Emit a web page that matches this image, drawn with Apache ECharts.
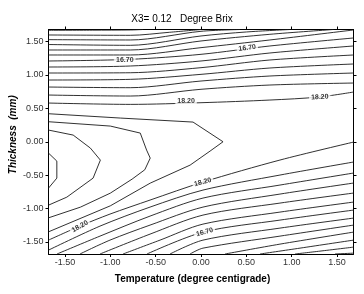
<!DOCTYPE html>
<html>
<head>
<meta charset="utf-8">
<script src="https://cdn.jsdelivr.net/npm/echarts@6/dist/echarts.min.js"></script>
<style>
  html, body { margin: 0; padding: 0; background: #fff; }
  #chart { width: 364px; height: 294px; }
</style>
</head>
<body>
<div id="chart"></div>
<script>
// tick labels
var xTicks = [-1.5, -1.0, -0.5, 0, 0.5, 1.0, 1.5];
var yTicks = [-1.5, -1.0, -0.5, 0, 0.5, 1.0, 1.5];

// contour lines, [temperature, thickness]
var c1520a = [[-1.682,1.67],[-1.2,1.672],[-0.78,1.675],[-0.64,1.682]];
var c1545a = [[-1.682,1.6],[-0.78,1.595],[-0.35,1.64],[0,1.682]];
var c1570a = [[-1.682,1.53],[-0.78,1.525],[0,1.655],[0.43,1.682]];
var c1595a = [[-1.682,1.457],[-0.78,1.445],[0,1.585],[0.5,1.645],[0.98,1.682]];
var c1620a = [[-1.682,1.375],[-0.78,1.375],[0,1.51],[0.76,1.61],[1.46,1.682]];
var c1645a = [[-1.682,1.30],[-0.78,1.30],[0,1.41],[0.76,1.525],[1.682,1.675]];
var c1670a = [[-1.682,1.21],[-0.78,1.235],[0,1.31],[0.76,1.435],[1.682,1.555]];
var c1695a = [[-1.682,1.12],[-0.78,1.135],[0,1.21],[0.76,1.33],[1.682,1.435]];
var c1720a = [[-1.682,1.03],[-0.78,1.034],[0,1.11],[0.76,1.225],[1.682,1.30]];
var c1745a = [[-1.682,0.925],[-0.78,0.935],[0,1.01],[0.76,1.105],[1.682,1.165]];
var c1770a = [[-1.682,0.82],[-0.78,0.81],[0,0.91],[0.76,0.985],[1.682,1.03]];
var c1795a = [[-1.682,0.70],[-0.78,0.685],[0,0.786],[0.76,0.85],[1.682,0.88]];
var c1820a = [[-1.682,0.58],[-0.78,0.56],[0,0.585],[0.76,0.625],[1.3,0.67],[1.682,0.745]];

var c1845 = [[-1.682,0.42],[-0.89,0.355],[-0.088,0.295],[0.243,0],[0.1,-0.14],[-0.12,-0.35],[-0.56,-0.62],[-1.0,-0.96],[-1.682,-1.35]];
var c1870 = [[-1.682,0.30],[-1.0,0.235],[-0.67,0.13],[-0.6,-0.125],[-0.56,-0.245],[-0.62,-0.42],[-0.76,-0.56],[-1.0,-0.77],[-1.33,-0.98],[-1.682,-1.14]];
var c1895 = [[-1.682,0.175],[-1.41,0.10],[-1.22,-0.095],[-1.11,-0.275],[-1.19,-0.545],[-1.48,-0.83],[-1.682,-0.95]];
var c1920 = [[-1.682,-0.17],[-1.59,-0.29],[-1.59,-0.545],[-1.682,-0.695]];

var c1820b = [[1.682,-0.005],[0.871,-0.274],[0.022,-0.604],[-0.562,-0.874],[-1.004,-1.084],[-1.335,-1.264],[-1.682,-1.474]];
var c1795b = [[1.682,-0.304],[0.871,-0.499],[0.022,-0.724],[-0.562,-0.979],[-1.114,-1.264],[-1.682,-1.624]];
var c1770b = [[1.682,-0.469],[0.871,-0.649],[0.022,-0.844],[-0.562,-1.114],[-1.114,-1.414],[-1.588,-1.682]];
var c1745b = [[1.682,-0.619],[0.871,-0.784],[0.022,-0.979],[-0.562,-1.249],[-1.004,-1.474],[-1.335,-1.682]];
var c1720b = [[1.682,-0.769],[0.871,-0.919],[0.022,-1.099],[-0.562,-1.384],[-1.114,-1.682]];
var c1695b = [[1.682,-0.904],[0.871,-1.054],[0.022,-1.234],[-0.452,-1.474],[-0.86,-1.682]];
var c1670b = [[1.682,-1.024],[0.871,-1.174],[0.022,-1.354],[-0.596,-1.682]];
var c1645b = [[1.682,-1.144],[0.871,-1.294],[0.022,-1.474],[-0.342,-1.682]];
var c1620b = [[1.682,-1.249],[0.871,-1.414],[0.022,-1.594],[-0.121,-1.682]];
var c1595b = [[1.682,-1.354],[0.871,-1.534],[0.265,-1.682]];
var c1570b = [[1.682,-1.474],[1.092,-1.594],[0.651,-1.682]];
var c1545b = [[1.682,-1.579],[1.312,-1.639],[1.037,-1.682]];
var c1520b = [[1.682,-1.669],[1.478,-1.682]];

// contour labels
var labelText = ['16.70', '16.70', '18.20', '18.20', '18.20', '18.20', '16.70'];
var labelPos = [[-0.84,1.225],[0.51,1.405],[-0.165,0.61],[1.31,0.67],[0.02,-0.604],[-1.335,-1.27],[0.04,-1.354]];
var labelRot = [0, 8, 0, 3, 15, 30, 15];

var smoothLines = [c1520a, c1545a, c1570a, c1595a, c1620a, c1645a, c1670a, c1695a, c1720a, c1745a, c1770a, c1795a, c1820a,
  c1820b, c1795b, c1770b, c1745b, c1720b, c1695b, c1670b, c1645b, c1620b, c1595b, c1570b, c1545b, c1520b];
var sharpLines = [c1845, c1870, c1895, c1920];

var chart = echarts.init(document.getElementById('chart'));

var series = [];
smoothLines.forEach(function (d) {
  series.push({ type: 'line', data: d, smooth: 0.3, symbol: 'none', silent: true,
    lineStyle: { color: '#1a1a1a', width: 0.9 } });
});
sharpLines.forEach(function (d) {
  series.push({ type: 'line', data: d, smooth: false, symbol: 'none', silent: true,
    lineStyle: { color: '#1a1a1a', width: 0.9 } });
});
series.push({
  type: 'scatter', symbolSize: 0.1, itemStyle: { color: '#fff' }, z: 5,
  data: labelPos.map(function (p, i) {
    return { value: p, label: { formatter: labelText[i], rotate: labelRot[i] } };
  }),
  label: { show: true, position: 'inside', color: '#000', fontSize: 7, fontWeight: 'bold',
    fontFamily: 'Liberation Sans', backgroundColor: '#fff', padding: [0, 2] }
});

var fmt = function (v) { return v.toFixed(2); };
var labelStyle = { color: '#333', fontSize: 9, fontFamily: 'Liberation Sans' };
var frame = { show: true, onZero: false, lineStyle: { color: '#000', width: 1 } };

var option = {
  animation: false,
  title: {
    text: 'X3= 0.12   Degree Brix',
    left: 'center', top: 9,
    textStyle: { fontSize: 10, fontWeight: 'normal', color: '#000', fontFamily: 'Liberation Sans' }
  },
  grid: { left: 48.5, right: 10.5, top: 29.5, bottom: 40, outerBoundsMode: 'none', containLabel: false },
  xAxis: [{
    type: 'value', min: -1.682, max: 1.682,
    name: 'Temperature (degree centigrade)', nameLocation: 'middle', nameGap: 20, nameMoveOverlap: false,
    nameTextStyle: { fontSize: 10, fontWeight: 'bold', color: '#000', fontFamily: 'Liberation Sans', padding: [0, 17, 0, 0] },
    axisLine: frame,
    axisTick: { show: true, length: 3, customValues: xTicks, lineStyle: { color: '#000' } },
    axisLabel: Object.assign({ customValues: xTicks, formatter: fmt, margin: 4 }, labelStyle),
    splitLine: { show: false }
  }, {
    type: 'value', position: 'top', min: -1.682, max: 1.682,
    axisLine: frame,
    axisTick: { show: true, length: 3, customValues: xTicks, lineStyle: { color: '#000' } },
    axisLabel: { show: false }, splitLine: { show: false }
  }],
  yAxis: [{
    type: 'value', min: -1.682, max: 1.682,
    name: 'Thickness  (mm)', nameLocation: 'middle', nameGap: 30, nameMoveOverlap: false,
    nameTextStyle: { fontSize: 10, fontWeight: 'bold', fontStyle: 'italic', color: '#000', fontFamily: 'Liberation Sans', padding: [0, 0, 0, 14] },
    axisLine: frame,
    axisTick: { show: true, length: 3, customValues: yTicks, lineStyle: { color: '#000' } },
    axisLabel: Object.assign({ customValues: yTicks, formatter: fmt, margin: 5 }, labelStyle),
    splitLine: { show: false }
  }, {
    type: 'value', position: 'right', min: -1.682, max: 1.682,
    axisLine: frame,
    axisTick: { show: true, length: 3, customValues: yTicks, lineStyle: { color: '#000' } },
    axisLabel: { show: false }, splitLine: { show: false }
  }],
  series: series
};

chart.setOption(option);
window.addEventListener('resize', function () { chart.resize(); });
</script>
</body>
</html>
